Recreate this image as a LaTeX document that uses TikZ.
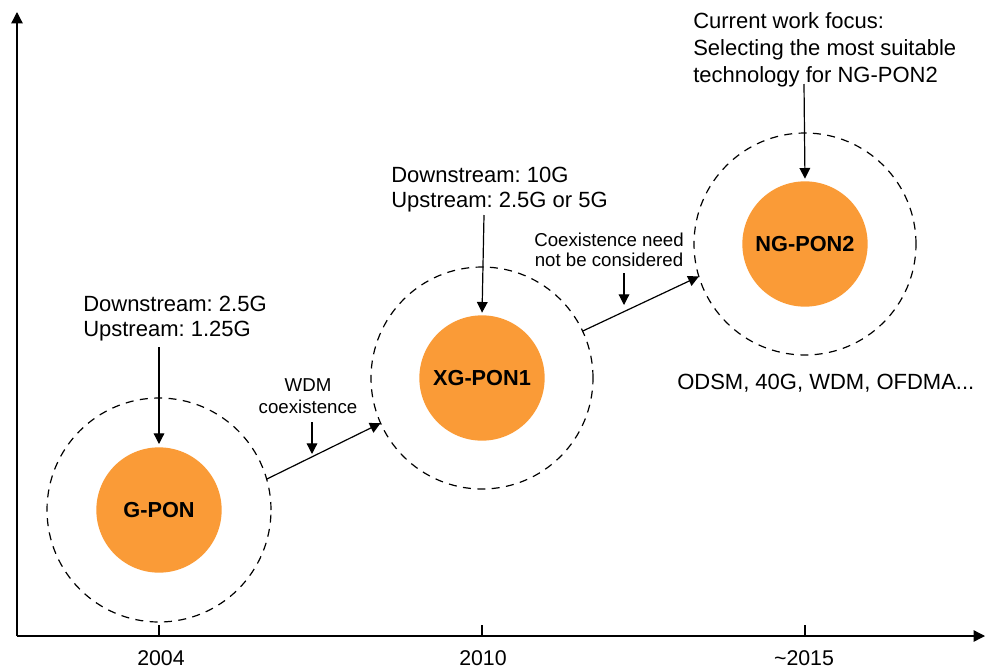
\documentclass[tikz,border=0pt]{standalone}
\usepackage{fontspec}
\setmainfont{Liberation Sans}
\usetikzlibrary{arrows.meta}
\definecolor{ponorange}{RGB}{250,155,55}
\frenchspacing
\begin{document}
\begin{tikzpicture}[x=0.75pt,y=-0.75pt,
  axis/.style={line width=1pt,-{Triangle[length=8.5pt,width=8.5pt]}},
  arr/.style={line width=0.9pt,-{Triangle[length=8pt,width=8pt]}},
  ring/.style={circle,draw,line width=0.9pt,dash pattern=on 6pt off 4.8pt,
    minimum size=#1,inner sep=0pt,outer sep=0pt},
  pon/.style={circle,fill=ponorange,minimum size=94pt,inner sep=0pt,outer sep=0pt,
    font=\fontsize{16.3pt}{19pt}\selectfont\bfseries},
  big/.style={inner sep=0pt,anchor=base west,font=\fontsize{16.5pt}{19pt}\selectfont},
  small/.style={inner sep=0pt,anchor=base,font=\fontsize{14pt}{16pt}\selectfont},
  year/.style={inner sep=0pt,anchor=base,font=\fontsize{16pt}{18pt}\selectfont},
  tickmark/.style={line width=1pt}
]
\useasboundingbox (0,0) rectangle (985,668);

% axes
\coordinate (O) at (17,636);
\coordinate (ytop) at (17,12);
\coordinate (xend) at (985,636);
\draw[axis] (O) -- (ytop);
\draw[axis] (O) -- (xend);

% ticks and years
\coordinate (t1) at (159,636);
\coordinate (t2) at (482,636);
\coordinate (t3) at (805,636);
\draw[tickmark] (t1) -- ++(0,-11);
\draw[tickmark] (t2) -- ++(0,-11);
\draw[tickmark] (t3) -- ++(0,-11);
\node[year] (y1) at (161,665) {2004};
\node[year] (y2) at (483,665) {2010};
\node[year] (y3) at (804,665) {\textasciitilde2015};

% generations
\node[ring=168pt] (gring) at (159,510) {};
\node[pon] (gpon) at (159,510) {G-PON};
\node[ring=166.5pt] (xgring) at (482,378) {};
\node[pon] (xgpon) at (482,378) {XG-PON1};
\node[ring=166.5pt] (ngring) at (805,244) {};
\node[pon] (ngpon) at (805,244) {NG-PON2};

% rates and notes
\node[big] (gds) at (83,311) {Downstream: 2.5G};
\node[big] (gus) at (83,336) {Upstream: 1.25G};
\node[big] (xgds) at (391,182.5) {Downstream: 10G};
\node[big] (xgus) at (391,207.5) {Upstream: 2.5G or 5G};
\node[big] (f1) at (693,28.5) {Current work focus:};
\node[big] (f2) at (693,55.5) {Selecting the most suitable};
\node[big] (f3) at (693,82.5) {technology for NG-PON2};
\node[big] (ngtech) at (677,389) {ODSM, 40G, WDM, OFDMA...};

\coordinate (gin) at (159,347);
\coordinate (xgin) at (484,215);
\coordinate (ngin) at (804,84);
\draw[arr,shorten >=2.5pt] (gin) -- (gpon.north);
\draw[arr,shorten >=2pt] (xgin) -- (xgpon.north);
\draw[arr,shorten >=2pt] (ngin) -- (ngpon.north);

% transitions
\draw[arr] (gring.16) -- (xgring.204);
\draw[arr] (xgring.25) -- (ngring.197);

\node[small] (wdm1) at (308,391.5) {WDM};
\node[small] (wdm2) at (308,413) {coexistence};
\coordinate (wdma) at (312,422);
\coordinate (wdmb) at (312,454);
\draw[arr] (wdma) -- (wdmb);

\node[small] (co1) at (609,246) {Coexistence need};
\node[small] (co2) at (609,266) {not be considered};
\coordinate (coa) at (624,273);
\coordinate (cob) at (624,305);
\draw[arr] (coa) -- (cob);
\end{tikzpicture}
\end{document}
